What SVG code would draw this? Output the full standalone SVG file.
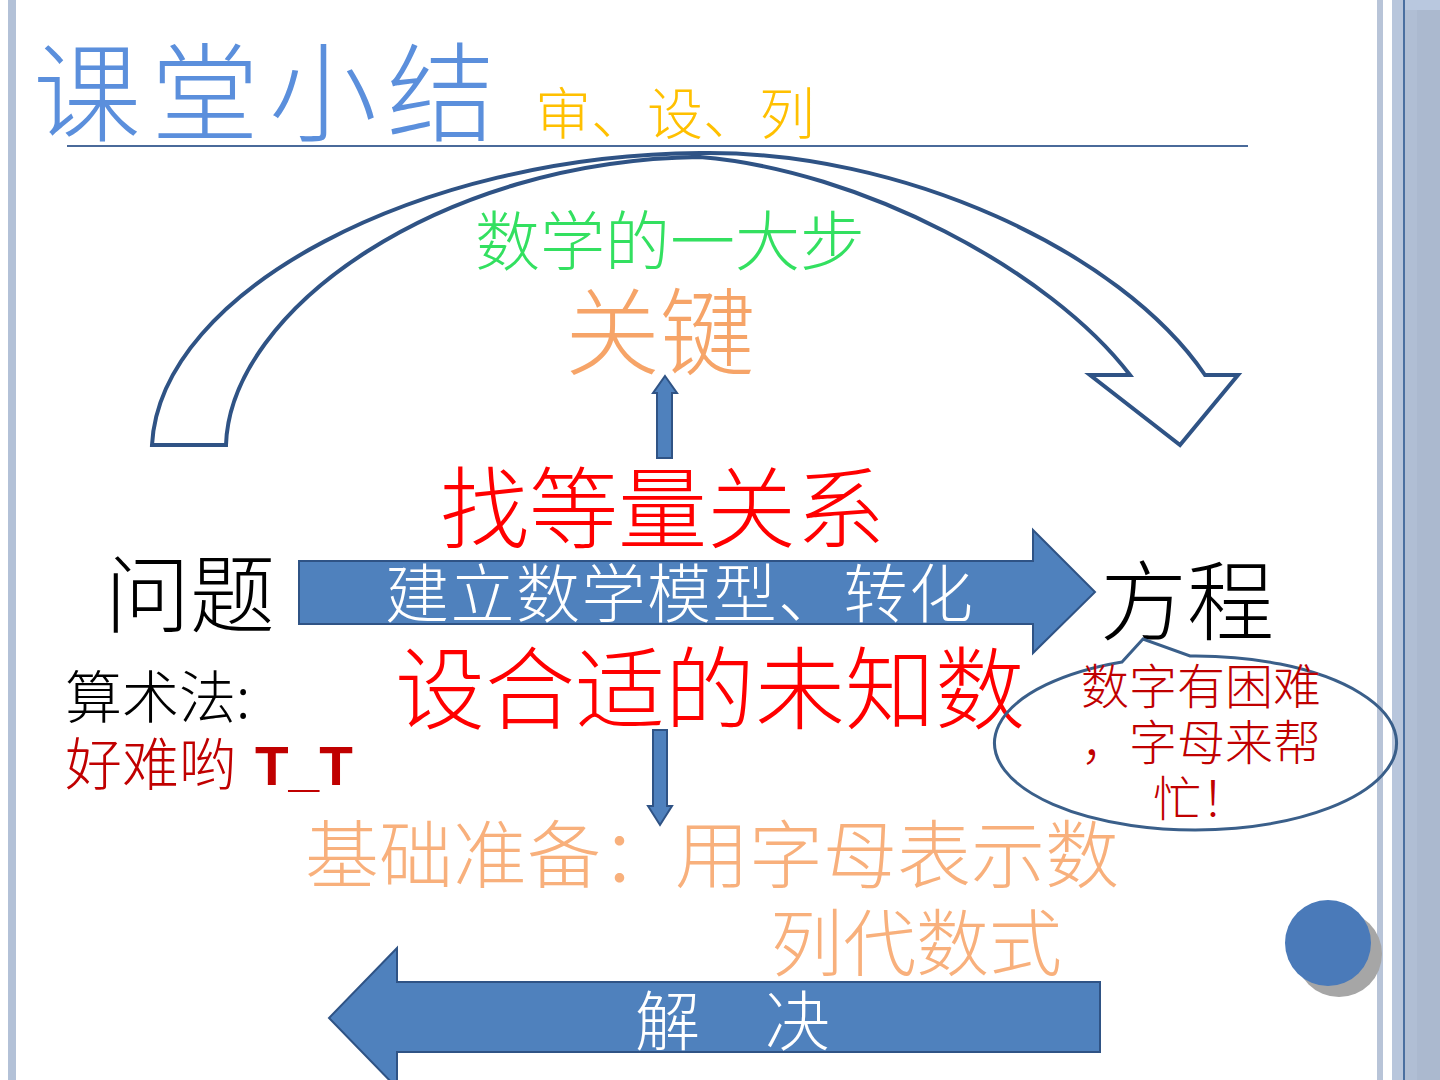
<svg xmlns="http://www.w3.org/2000/svg" width="1440" height="1080" viewBox="0 0 1440 1080">
<style>
.cjk{font-family:"Noto Sans CJK SC","Noto Sans",sans-serif;font-weight:300;}
.blk{stroke:#2f5385;stroke-width:2;fill:#4f81bd;}
.wt{fill:#ffffff;}
</style>
<rect x="0" y="0" width="1440" height="1080" fill="#ffffff"/>
<g id="frame">
<rect x="8" y="0" width="8" height="1080" fill="#b3c1d7"/>
<rect x="1377" y="0" width="6" height="1080" fill="#b8c4d8"/>
<rect x="1392" y="0" width="11" height="1080" fill="#b8c6dc"/>
<rect x="1403" y="0" width="2" height="1080" fill="#4a6fa0"/>
<rect x="1405" y="0" width="35" height="1080" fill="#abb9cf"/>
<rect x="1405" y="0" width="12" height="1080" fill="#b0bed4"/>
<rect x="1405" y="0" width="35" height="10" fill="#b9c8df"/>
<line x1="67" y1="146" x2="1248" y2="146" stroke="#4a6a9a" stroke-width="2"/>
</g>
<g id="title">
<text class="cjk" x="33" y="133" font-size="108" letter-spacing="10" fill="#5b8fdc">课堂小结</text>
<text class="cjk" x="535" y="134" font-size="56" fill="#ffc000">审、设、列</text>
</g>
<g id="connectors">
<path id="curved-arrow" d="M152,445 C160,290 420,155 700,153 C900,150 1120,250 1205,375 L1238,375 L1180,445 L1090,375 L1130,375 C1050,270 860,170 700,157 C440,160 230,310 226,445 Z" fill="#ffffff" stroke="#2f5385" stroke-width="4" stroke-linejoin="miter"/>
<path id="up-arrow" class="blk" d="M665,376 L677,393 L672,393 L672,458 L657,458 L657,393 L653,393 Z"/>
<path id="down-arrow" class="blk" d="M653,730 L667,730 L667,806 L672,806 L660,825 L648,806 L653,806 Z"/>
<path id="right-arrow" class="blk" d="M299,561 L1033,561 L1033,530 L1095,592 L1033,653 L1033,624 L299,624 Z"/>
<path id="left-arrow" class="blk" d="M1100,982 L397,982 L397,948 L329,1018 L397,1088 L397,1052 L1100,1052 Z"/>
</g>
<g id="node-step">
<text class="cjk" x="475" y="265" font-size="65" fill="#33e060">数学的一大步</text>
</g>
<g id="node-key">
<text class="cjk" x="565" y="368" font-size="95" fill="#f6a468">关键</text>
</g>
<g id="node-equal">
<text class="cjk" x="440" y="541" font-size="89" fill="#ff0000">找等量关系</text>
</g>
<g id="node-problem">
<text class="cjk" x="105" y="626" font-size="85" fill="#000000">问题</text>
</g>
<g id="node-equation">
<text class="cjk" x="1100" y="634" font-size="87" fill="#000000">方程</text>
</g>
<g id="node-model">
<text class="cjk wt" x="385" y="617" font-size="64" letter-spacing="1.5">建立数学模型、转化</text>
</g>
<g id="node-unknown">
<text class="cjk" x="395" y="722" font-size="90" fill="#ff0000">设合适的未知数</text>
</g>
<g id="node-arith">
<text class="cjk" x="65" y="718" font-size="57" fill="#000000">算术法:</text>
<text class="cjk" x="65" y="785" font-size="57" fill="#c00000">好难哟</text>
<text x="255" y="785" font-size="55" font-weight="bold" font-family="'Liberation Sans',Arial,sans-serif" fill="#c00000">T_T</text>
</g>
<g id="node-callout">
<path d="M1122,662 L1143,639 L1190,656 A201,87 0 1 1 1122,662 Z" fill="none" stroke="#3a5f8a" stroke-width="3"/>
<text class="cjk" x="1201" y="704" font-size="48" fill="#c00000" text-anchor="middle">数字有困难</text>
<text class="cjk" x="1201" y="760" font-size="48" fill="#c00000" text-anchor="middle">，字母来帮</text>
<text class="cjk" x="1201" y="816" font-size="48" fill="#c00000" text-anchor="middle">忙！</text>
</g>
<g id="node-basis">
<text class="cjk" x="305" y="882" font-size="74" fill="#f8b07c">基础准备：用字母表示数</text>
<text class="cjk" x="770" y="970" font-size="73" fill="#f8b07c">列代数式</text>
</g>
<g id="node-solve">
<text class="cjk wt" x="635" y="1045" font-size="65">解　决</text>
</g>
<g id="deco-circle">
<circle cx="1339" cy="954" r="43" fill="#a6a6a6"/>
<circle cx="1328" cy="943" r="43" fill="#4a7ab9"/>
</g>
</svg>
